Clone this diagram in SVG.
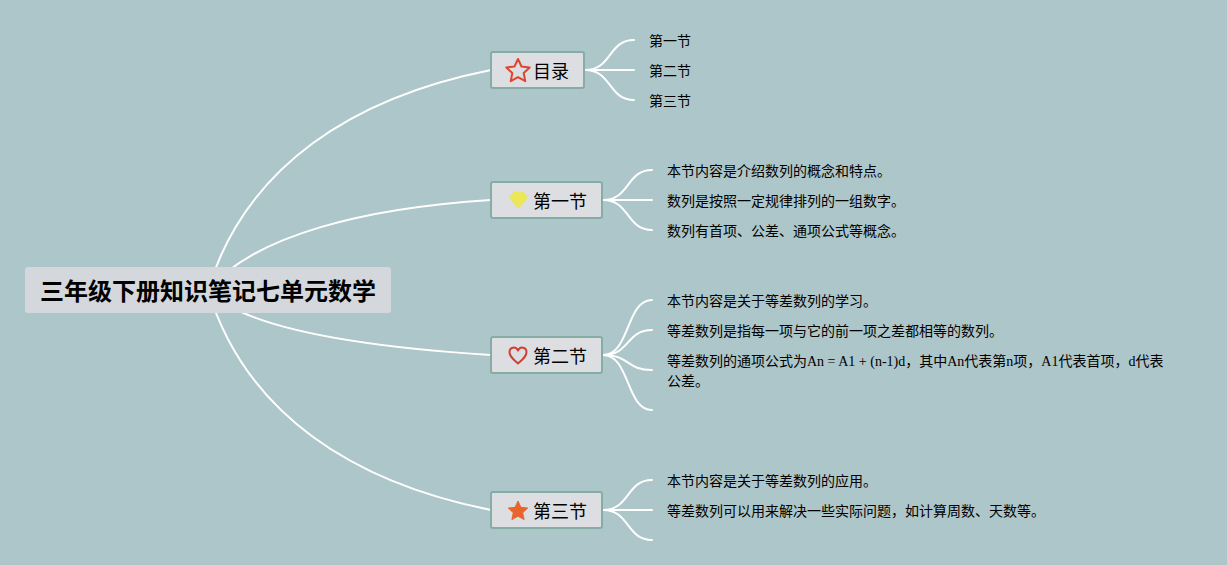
<svg xmlns="http://www.w3.org/2000/svg" width="1227" height="565" viewBox="0 0 1227 565">
<style>
text{font-family:"Liberation Serif","Noto Sans CJK SC",serif;fill:#000}
.c{fill:none;stroke:#fff;stroke-width:2;stroke-linecap:round}
.b{fill:#dcdee2;stroke:#86aca6;stroke-width:2}
.t{font-size:18px}
.s{font-size:14px}
</style>
<rect width="1227" height="565" fill="#adc6c9"/>
<g id="connectors">
<path class="c" d="M208 290C246 165 355 97 491 70"/>
<path class="c" d="M208 290C255 235 365 208 491 200"/>
<path class="c" d="M208 290C245 330 365 347 491 355"/>
<path class="c" d="M208 290C246 415 355 483 491 510"/>
<path class="c" d="M585 70C612 70 608 40 634 40"/>
<path class="c" d="M585 70H634"/>
<path class="c" d="M585 70C612 70 608 100 634 100"/>
<path class="c" d="M603 200C630 200 626 170 652 170"/>
<path class="c" d="M603 200H652"/>
<path class="c" d="M603 200C630 200 626 230 652 230"/>
<path class="c" d="M603 355C630 355 626 300 652 300"/>
<path class="c" d="M603 355C630 355 626 330 652 330"/>
<path class="c" d="M603 355C630 355 626 370 652 370"/>
<path class="c" d="M603 355C630 355 626 410 652 410"/>
<path class="c" d="M603 510C630 510 626 480 652 480"/>
<path class="c" d="M603 510H652"/>
<path class="c" d="M603 510C630 510 626 540 652 540"/>
</g>
<g id="root">
<rect x="25" y="267" width="366" height="46" rx="3" fill="#d4d7db"/>
<text x="208" y="300" text-anchor="middle" font-size="24" font-weight="700">三年级下册知识笔记七单元数学</text>
</g>
<g id="node-mulu">
<rect class="b" x="491" y="52" width="93" height="36" rx="2"/>
<path d="M518 59l3.500 7.500 8.200 1-6 5.600 1.600 8.100-7.300-4-7.300 4 1.600-8.100-6-5.600 8.200-1z" fill="none" stroke="#e0452f" stroke-width="2" stroke-linejoin="round"/>
<text class="t" x="533" y="78">目录</text>
</g>
<g id="node-s1">
<rect class="b" x="491" y="182" width="111" height="36" rx="2"/>
<path d="M514 192h9l4 4.500c0 3-5.500 8.500-8.500 11.500c-3-3-8.500-8.500-8.500-11.500z" fill="#ece65a" stroke="#ece65a" stroke-linejoin="round"/>
<text class="t" x="533" y="208">第一节</text>
</g>
<g id="node-s2">
<rect class="b" x="491" y="337" width="111" height="36" rx="2"/>
<path d="M518 363.500C513 359 509.500 356.500 509.500 352C509.500 347 516 346 518 350.500C520 346 526.500 347 526.500 352C526.500 356.500 523 359 518 363.500z" fill="none" stroke="#d04035" stroke-width="2" stroke-linejoin="round"/>
<text class="t" x="533" y="363">第二节</text>
</g>
<g id="node-s3">
<rect class="b" x="491" y="492" width="111" height="36" rx="2"/>
<path d="M518 501l2.900 6.300 6.800 .8-5 4.700 1.400 6.800-6.100-3.400-6.100 3.400 1.400-6.800-5-4.700 6.800-.8z" fill="#e8662e" stroke="#e8662e" stroke-linejoin="round"/>
<text class="t" x="533" y="518">第三节</text>
</g>
<g id="mulu-items">
<text class="s" x="649" y="46">第一节</text>
<text class="s" x="649" y="76">第二节</text>
<text class="s" x="649" y="106">第三节</text>
</g>
<g id="s1-items">
<text class="s" x="667" y="176">本节内容是介绍数列的概念和特点。</text>
<text class="s" x="667" y="206">数列是按照一定规律排列的一组数字。</text>
<text class="s" x="667" y="236">数列有首项、公差、通项公式等概念。</text>
</g>
<g id="s2-items">
<text class="s" x="667" y="306">本节内容是关于等差数列的学习。</text>
<text class="s" x="667" y="336">等差数列是指每一项与它的前一项之差都相等的数列。</text>
<text class="s" x="667" y="366">等差数列的通项公式为An = A1 + (n-1)d，其中An代表第n项，A1代表首项，d代表</text>
<text class="s" x="667" y="386">公差。</text>
</g>
<g id="s3-items">
<text class="s" x="667" y="486">本节内容是关于等差数列的应用。</text>
<text class="s" x="667" y="516">等差数列可以用来解决一些实际问题，如计算周数、天数等。</text>
</g>
</svg>
